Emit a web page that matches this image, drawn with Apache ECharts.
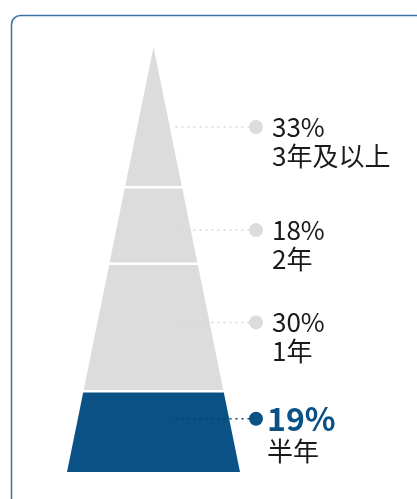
<!DOCTYPE html>
<html>
<head>
<meta charset="utf-8">
<script src="https://cdn.jsdelivr.net/npm/echarts@6/dist/echarts.min.js"></script>
<style>
  html, body { margin: 0; padding: 0; background: #fff; }
  #chart { width: 417px; height: 499px; }
</style>
</head>
<body>
<div id="chart"></div>
<script>
// Tenure bands, listed from the apex of the pyramid down to its base
const categories = ['3年及以上', '2年', '1年', '半年'];
const shares = [33, 18, 30, 19];
const highlightIndex = 3;

// Where each leader line sits inside its band (fraction of the band height)
const leaderAnchor = [0.57, 0.56, 0.46, 0.34];

const total = shares.reduce((a, b) => a + b, 0);
const bands = [];
let acc = 0;
shares.forEach((v, i) => {
  bands.push([i, acc, acc + v, v]);
  acc += v;
});

const GRAY = '#dcdcdc';
const BLUE = '#0a5285';
const FONT = '"Noto Sans CJK SC", "Noto Sans", sans-serif';

function renderBand(params, api) {
  const i = api.value(0);
  const s = api.value(1);
  const e = api.value(2);
  const v = api.value(3);
  const hi = i === highlightIndex;

  const tl = api.coord([-s / total, s]);
  const tr = api.coord([s / total, s]);
  const br = api.coord([e / total, e]);
  const bl = api.coord([-e / total, e]);
  const cx = api.coord([0, 0])[0];
  const baseRight = api.coord([1, 0])[0];

  const ly = api.coord([0, s + (e - s) * leaderAnchor[i]])[1];
  const dotX = baseRight + 16;
  const textX = hi ? dotX + 11 : dotX + 16;

  const children = [
    {
      type: 'polygon',
      shape: { points: [tl, tr, br, bl] },
      style: { fill: hi ? BLUE : GRAY }
    }
  ];
  if (s > 0) {
    // white gap separating this band from the one above
    children.push({
      type: 'line',
      shape: { x1: tl[0] - 4, y1: tl[1], x2: tr[0] + 4, y2: tr[1] },
      style: { stroke: '#fff', lineWidth: 2.5 },
      z2: 4
    });
  }
  children.push(
    {
      type: 'line',
      shape: { x1: cx + 22, y1: ly, x2: dotX, y2: ly },
      style: {
        stroke: hi ? '#063f69' : '#d6d6d6',
        lineWidth: 1.5,
        lineDash: [2, 4]
      },
      z2: 5
    },
    {
      type: 'circle',
      shape: { cx: dotX, cy: ly, r: 7 },
      style: { fill: hi ? BLUE : GRAY },
      z2: 6
    },
    {
      type: 'text',
      x: textX,
      y: ly,
      style: {
        text: v + '%',
        fill: hi ? BLUE : '#1a1a1a',
        font: (hi ? 'bold 32px ' : '26px ') + FONT,
        verticalAlign: 'middle',
        align: 'left'
      },
      z2: 6
    },
    {
      type: 'text',
      x: textX,
      y: ly + (hi ? 32 : 29),
      style: {
        text: categories[i],
        fill: '#1a1a1a',
        font: '26px ' + FONT,
        verticalAlign: 'middle',
        align: 'left'
      },
      z2: 6
    }
  );

  return { type: 'group', children: children };
}

const chart = echarts.init(document.getElementById('chart'), null, { renderer: 'canvas' });
chart.setOption({
  animation: false,
  backgroundColor: '#fff',
  graphic: [
    {
      type: 'rect',
      left: 9,
      top: 13,
      shape: { width: 440, height: 520, r: 9 },
      style: { fill: 'none', stroke: '#3b70a6', lineWidth: 1.5 },
      silent: true
    }
  ],
  grid: { left: 67, right: 177, top: 47, bottom: 27 },
  xAxis: { type: 'value', min: -1, max: 1, show: false },
  yAxis: { type: 'value', min: 0, max: total, inverse: true, show: false },
  series: [
    {
      type: 'custom',
      clip: false,
      renderItem: renderBand,
      encode: { x: 1, y: 2 },
      data: bands
    }
  ]
});
</script>
</body>
</html>
